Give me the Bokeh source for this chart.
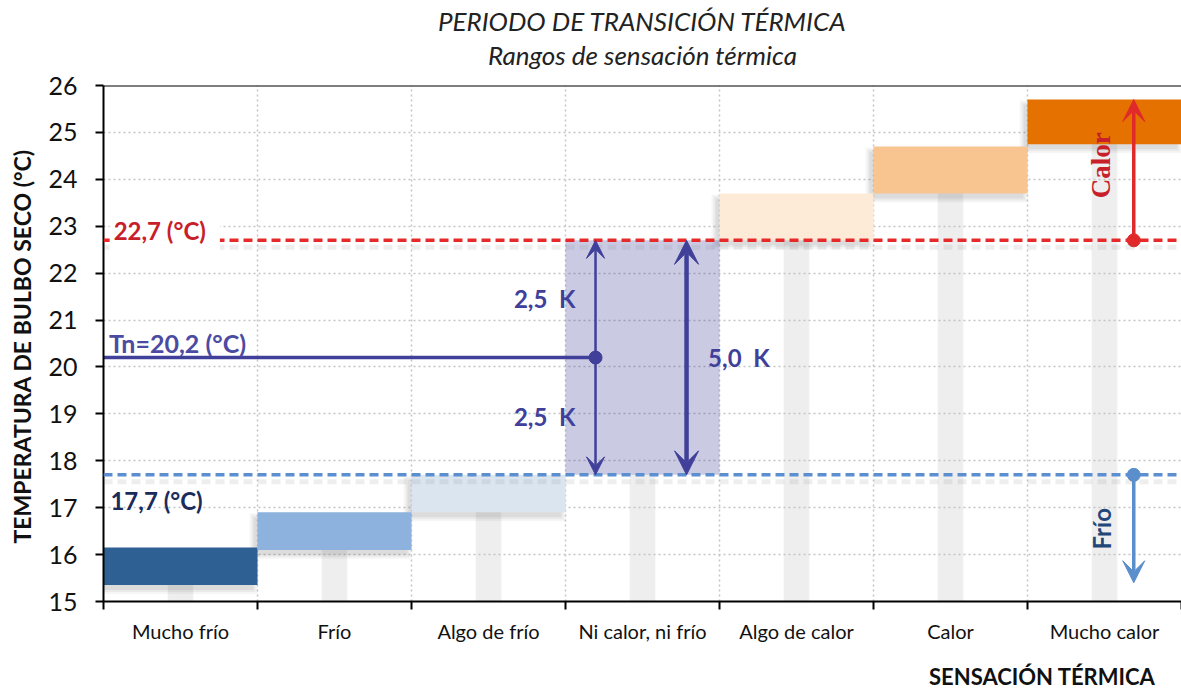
from bokeh.plotting import figure
from bokeh.models import FixedTicker, Label, Title, Arrow, VeeHead, Span
from bokeh.embed import file_html
from bokeh.resources import INLINE

# ---------------- data ----------------
categories = ["Mucho frío", "Frío", "Algo de frío", "Ni calor, ni frío",
              "Algo de calor", "Calor", "Mucho calor"]
range_low = [15.35, 16.1, 16.9, 17.7, 22.7, 23.7, 24.75]
range_high = [16.15, 16.9, 17.7, 22.7, 23.7, 24.7, 25.7]
bar_colors = ["#2e6094", "#8db2dd", "#dbe5f0", "#40409a", "#fdebd7", "#f8c490", "#e57100"]
bar_alphas = [1, 1, 1, 0.28, 1, 1, 1]
tn = 20.2
t_sup = 22.7
t_inf = 17.7
calor_tip = 25.7
frio_tip = 15.4
y_ticks = list(range(15, 27))
title_main = "PERIODO DE TRANSICIÓN TÉRMICA"
title_sub = "Rangos de sensación térmica"
x_title = "SENSACIÓN TÉRMICA"
y_title = "TEMPERATURA DE BULBO SECO  (°C)"
tn_label = "Tn=20,2 (°C)"
sup_label = "22,7 (°C)"
inf_label = "17,7 (°C)"
half_label = "2,5\u00a0\u00a0K"
full_label = "5,0\u00a0\u00a0K"

FONT = "Lato"
W, H = 1181, 691
BL, BR, BT, BB = 103, 0, 85, 90
X0, X1, Y0, Y1 = 0, 7, 15, 26
px_x = (X1 - X0) / (W - BL - BR)
px_y = (Y1 - Y0) / (H - BT - BB)

p = figure(width=W, height=H, x_range=(X0, X1), y_range=(Y0, Y1),
           output_backend="svg", toolbar_location=None,
           min_border_left=BL, min_border_right=BR, min_border_top=BT,
           min_border_bottom=BB, background_fill_color="white",
           border_fill_color="white")
p.outline_line_color = None

# titles (a tiny blank title acts as a spacer next to the frame)
p.add_layout(Title(text=" ", text_font_size="2px", standoff=11), "above")
p.add_layout(Title(text=title_sub, align="center",
                   text_font=FONT, text_font_size="26px", text_font_style="italic",
                   text_color="#222222", standoff=0), "above")
p.add_layout(Title(text=title_main, align="center",
                   text_font=FONT, text_font_size="26px", text_font_style="italic",
                   text_color="#222222", standoff=0), "above")

# axes
p.yaxis.ticker = FixedTicker(ticks=y_ticks)
p.yaxis.major_tick_out = 8
p.yaxis.major_tick_in = 0
p.yaxis.minor_tick_line_color = None
p.yaxis.axis_line_width = 2
p.yaxis.major_tick_line_width = 2
p.yaxis.major_label_standoff = 18
p.yaxis.major_label_text_font = FONT
p.yaxis.major_label_text_font_size = "25px"
p.yaxis.major_label_text_color = "#111111"
p.yaxis.axis_label = y_title
p.yaxis.axis_label_text_font = FONT
p.yaxis.axis_label_text_font_size = "23px"
p.yaxis.axis_label_text_font_style = "bold"
p.yaxis.axis_label_text_color = "#111111"
p.yaxis.axis_label_standoff = 9

centers = [i + 0.5 for i in range(len(categories))]
p.xaxis.ticker = FixedTicker(ticks=centers, minor_ticks=list(range(len(categories) + 1)))
p.xaxis.major_label_overrides = {c: n for c, n in zip(centers, categories)}
p.xaxis.major_tick_line_color = None
p.xaxis.major_tick_out = 8
p.xaxis.minor_tick_out = 8
p.xaxis.minor_tick_in = 0
p.xaxis.minor_tick_line_width = 2
p.xaxis.minor_tick_line_color = "black"
p.xaxis.axis_line_width = 2
p.xaxis.major_label_standoff = 9
p.xaxis.major_label_text_font = FONT
p.xaxis.major_label_text_font_size = "20px"
p.xaxis.major_label_text_line_height = 1.0
p.xaxis.major_label_text_color = "#111111"
p.add_layout(Title(text=" ", text_font_size="2px", standoff=11), "below")
p.add_layout(Title(text=x_title, align="right", text_font=FONT,
                   text_font_size="22px", text_font_style="bold",
                   text_color="#111111", offset=26, standoff=0), "below")

# grid
p.xgrid.ticker = FixedTicker(ticks=list(range(len(categories) + 1)))
for g in (p.xgrid, p.ygrid):
    g.grid_line_color = "#c4c4c4"
    g.grid_line_dash = "2 3"
    g.grid_line_width = 1.5

# top border
p.add_layout(Span(location=Y1, dimension="width", line_color="black", line_width=2))

# light grey columns
p.vbar(x=centers, width=0.16, bottom=Y0, top=range_low, color="#eeeeee", level="underlay")

# shadows of bars
lefts = list(range(len(categories)))
solid = [i for i in lefts if bar_alphas[i] == 1]
for g, a in [(4, 0.05), (2, 0.07), (0, 0.09)]:
    p.quad(left=[lefts[i] - 4 * px_x - g * px_x for i in solid],
           right=[lefts[i] + 1 - 4 * px_x + g * px_x for i in solid],
           bottom=[range_low[i] - 5 * px_y - g * px_y for i in solid],
           top=[range_high[i] - 5 * px_y + g * px_y for i in solid],
           fill_color="#555555", fill_alpha=a, line_color=None)

# bars
p.quad(left=lefts, right=[i + 1 for i in lefts], bottom=range_low, top=range_high,
       fill_color=bar_colors, fill_alpha=bar_alphas, line_color=None)

# shadows of horizontal limit lines
for loc in (t_sup, t_inf):
    p.add_layout(Span(location=loc - 7 * px_y, dimension="width", line_color="#777777",
                      line_alpha=0.12, line_width=5, line_dash="9 5"))

# limit lines
p.add_layout(Span(location=t_sup, dimension="width", line_color="#e62a2a",
                  line_width=3.5, line_dash="9 5"))
p.add_layout(Span(location=t_inf, dimension="width", line_color="#5b8fd0",
                  line_width=3.5, line_dash="9 5"))

# Tn line
tn_x = 3.195
band_x = 3.786
side_x = 6.69
p.line(x=[X0, tn_x], y=[tn, tn], line_color="#40409a", line_width=3.5)

# arrows
dark = "#40409a"
p.add_layout(Arrow(x_start=tn_x, y_start=t_inf, x_end=tn_x, y_end=t_sup,
                   line_color=dark, line_width=2.5,
                   start=VeeHead(size=18, line_color=dark, fill_color=dark, line_width=1),
                   end=VeeHead(size=18, line_color=dark, fill_color=dark, line_width=1)))
p.add_layout(Arrow(x_start=band_x, y_start=t_inf, x_end=band_x, y_end=t_sup,
                   line_color=dark, line_width=4.5,
                   start=VeeHead(size=24, line_color=dark, fill_color=dark, line_width=1),
                   end=VeeHead(size=24, line_color=dark, fill_color=dark, line_width=1)))
p.add_layout(Arrow(x_start=side_x, y_start=t_sup, x_end=side_x, y_end=calor_tip,
                   line_color="#e02a2a", line_width=3.5, start=None,
                   end=VeeHead(size=22, line_color="#e02a2a", fill_color="#e02a2a", line_width=1)))
p.add_layout(Arrow(x_start=side_x, y_start=t_inf, x_end=side_x, y_end=frio_tip,
                   line_color="#5a8fcc", line_width=3.5, start=None,
                   end=VeeHead(size=22, line_color="#5a8fcc", fill_color="#5a8fcc", line_width=1)))

p.scatter(x=[tn_x], y=[tn], size=13, color=dark)
p.scatter(x=[side_x], y=[t_sup], size=13, color="#e02a2a")
p.scatter(x=[side_x], y=[t_inf], size=13, color="#5a8fcc")

# labels
LBL = "24px"
p.add_layout(Label(x=0.04, y=t_sup, y_offset=9, text=sup_label, text_font=FONT,
                   text_font_size=LBL, text_font_style="bold", text_color="#c8202a",
                   text_baseline="middle", background_fill_color="white",
                   padding=(4, 14, 5, 6)))
p.add_layout(Label(x=0.035, y=tn, y_offset=15, text=tn_label, text_font=FONT,
                   text_font_size="25px", text_font_style="bold", text_color="#4b4ba3",
                   text_baseline="middle"))
p.add_layout(Label(x=0.045, y=t_inf, y_offset=-26, text=inf_label, text_font=FONT,
                   text_font_size=LBL, text_font_style="bold", text_color="#1b2b5b",
                   text_baseline="middle"))
for yv in ((t_sup + tn) / 2, (t_inf + tn) / 2):
    p.add_layout(Label(x=3.0 + 0.065, y=yv, text=half_label, text_font=FONT,
                       text_font_size=LBL, text_font_style="bold", text_color=dark,
                       text_baseline="middle", text_align="right"))
p.add_layout(Label(x=band_x + 0.14, y=tn, text=full_label, text_font=FONT,
                   text_font_size=LBL, text_font_style="bold", text_color=dark,
                   text_baseline="middle", text_align="left"))
p.add_layout(Label(x=side_x - 0.21, y=24.3, text="Calor", angle=1.5708,
                   text_font="Liberation Serif", text_font_size="27px",
                   text_font_style="bold", text_color="#c8202a",
                   text_baseline="middle", text_align="center"))
p.add_layout(Label(x=side_x - 0.21, y=16.55, text="Frío", angle=1.5708,
                   text_font=FONT, text_font_size="24px", text_font_style="bold",
                   text_color="#24477a", text_baseline="middle", text_align="center"))

open("out.html", "w").write(file_html(p, INLINE))
